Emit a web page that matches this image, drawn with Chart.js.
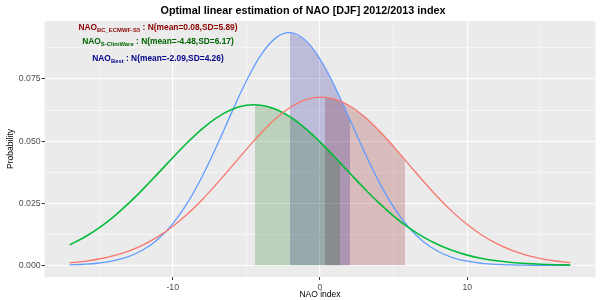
<!DOCTYPE html>
<html>
<head>
<meta charset="utf-8">
<script src="https://cdn.jsdelivr.net/npm/chart.js@4.4.0/dist/chart.umd.min.js"></script>
<style>
  body { margin: 0; background: #ffffff; }
  #wrap { width: 600px; height: 300px; }
</style>
</head>
<body>
<div id="wrap"><canvas id="chart"></canvas></div>
<script>
// NAO index values at which the densities were read
const xGrid = [-17, -16, -15, -14, -13, -12, -11, -10, -9, -8, -7, -6, -5, -4, -3, -2, -1,
               0, 1, 2, 3, 4, 5, 6, 7, 8, 9, 10, 11, 12, 13, 14, 15, 16, 17];

// NAO_BC_ECMWF-S5 (red)
const densEcmwf = [0.00101, 0.00163, 0.00256, 0.00389, 0.00575, 0.00827, 0.01155, 0.01566, 0.02064,
                   0.02643, 0.03289, 0.03976, 0.04669, 0.05328, 0.05908, 0.06364, 0.06660, 0.06772,
                   0.06691, 0.06423, 0.05990, 0.05428, 0.04778, 0.04087, 0.03397, 0.02743, 0.02152,
                   0.01640, 0.01214, 0.00874, 0.00611, 0.00415, 0.00274, 0.00176, 0.00109];

// NAO_S-ClimWare (green)
const densClimware = [0.00825, 0.01132, 0.01511, 0.01966, 0.02492, 0.03077, 0.03700, 0.04333, 0.04944,
                      0.05495, 0.05948, 0.06273, 0.06443, 0.06446, 0.06282, 0.05964, 0.05515, 0.04968,
                      0.04358, 0.03725, 0.03101, 0.02515, 0.01986, 0.01528, 0.01145, 0.00836, 0.00595,
                      0.00412, 0.00278, 0.00183, 0.00117, 0.00073, 0.00044, 0.00026, 0.00015];

// NAO_Best (blue)
const densBest = [0.00022, 0.00045, 0.00095, 0.00188, 0.00353, 0.00626, 0.01051, 0.01670, 0.02513,
                  0.03577, 0.04820, 0.06146, 0.07416, 0.08469, 0.09154, 0.09363, 0.09063, 0.08303,
                  0.07199, 0.05907, 0.04587, 0.03371, 0.02344, 0.01543, 0.00961, 0.00567, 0.00316,
                  0.00167, 0.00083, 0.00039, 0.00018, 0.00007, 0.00003, 0.00001, 0.00000];

// shaded areas, mean .. mean+SD
const shadeEcmwfX = [0.34, 1, 2, 3, 4, 5, 5.78];
const shadeEcmwfY = [0.06766, 0.06691, 0.06423, 0.05990, 0.05428, 0.04778, 0.04240];
const shadeClimwareX = [-4.42, -4, -3, -2, -1, 0, 1, 1.36];
const shadeClimwareY = [0.06466, 0.06446, 0.06282, 0.05964, 0.05515, 0.04968, 0.04358, 0.04131];
const shadeBestX = [-2.04, -1, 0, 1, 2, 2.04];
const shadeBestY = [0.09364, 0.09063, 0.08303, 0.07199, 0.05907, 0.05853];

// text in the top left corner
const labelNames = ['NAO', 'NAO', 'NAO'];
const labelSubs = ['BC_ECMWF-S5', 'S-ClimWare', 'Best'];
const labelMeans = ['0.08', '-4.48', '-2.09'];
const labelSds = ['5.89', '6.17', '4.26'];
const labelX = -11;
const labelY = [0.0958, 0.0901, 0.0834];
const labelColors = ['#8B0000', '#006400', '#00008B'];

const chartTitle = 'Optimal linear estimation of NAO [DJF] 2012/2013 index';

const FONT = '"Liberation Sans", Arial, Helvetica, sans-serif';
Chart.defaults.font.family = FONT;

function toPoints(xs, ys) {
    return xs.map((x, i) => ({ x: x, y: ys[i] }));
}

function isMultiple(v, step) {
    const r = v / step;
    return Math.abs(r - Math.round(r)) < 1e-6;
}

const panelBg = {
    id: 'panelBg',
    beforeDraw(chart) {
        const { ctx, chartArea: a } = chart;
        ctx.save();
        ctx.fillStyle = '#EBEBEB';
        ctx.fillRect(a.left, a.top, a.right - a.left, a.bottom - a.top);
        ctx.restore();
    }
};

// ggplot puts the title a bit right of the canvas centre
const plotTitle = {
    id: 'plotTitle',
    afterDraw(chart) {
        const ctx = chart.ctx;
        ctx.save();
        ctx.font = 'bold 10.8px ' + FONT;
        ctx.fillStyle = '#000000';
        ctx.textAlign = 'center';
        ctx.textBaseline = 'alphabetic';
        ctx.fillText(chartTitle, 303, 14);
        ctx.restore();
    }
};

const modelLabels = {
    id: 'modelLabels',
    afterDatasetsDraw(chart) {
        const { ctx, scales } = chart;
        const mainFont = 'bold 8.4px ' + FONT;
        const subFont = 'bold 5.9px ' + FONT;
        const cx = scales.x.getPixelForValue(labelX);
        ctx.save();
        ctx.textAlign = 'left';
        ctx.textBaseline = 'alphabetic';
        labelSubs.forEach((sub, i) => {
            const rest = ' : N(mean=' + labelMeans[i] + ',SD=' + labelSds[i] + ')';
            const y = scales.y.getPixelForValue(labelY[i]) + 3;
            ctx.font = mainFont;
            const w1 = ctx.measureText(labelNames[i]).width;
            const w3 = ctx.measureText(rest).width;
            ctx.font = subFont;
            const w2 = ctx.measureText(sub).width;
            let x = cx - (w1 + w2 + w3) / 2;
            ctx.fillStyle = labelColors[i];
            ctx.font = mainFont;
            ctx.fillText(labelNames[i], x, y);
            x += w1;
            ctx.font = subFont;
            ctx.fillText(sub, x, y + 2);
            x += w2;
            ctx.font = mainFont;
            ctx.fillText(rest, x, y);
        });
        ctx.restore();
    }
};

function curve(ys, color, width) {
    return {
        data: toPoints(xGrid, ys),
        borderColor: color,
        borderWidth: width,
        pointRadius: 0,
        tension: 0.4,
        fill: false,
        order: 1
    };
}

function shade(xs, ys, color) {
    return {
        data: toPoints(xs, ys),
        borderWidth: 0,
        borderColor: 'rgba(0,0,0,0)',
        backgroundColor: color,
        pointRadius: 0,
        tension: 0.4,
        fill: 'origin',
        order: 2
    };
}

const ctx = document.getElementById('chart').getContext('2d');
new Chart(ctx, {
    type: 'line',
    data: {
        datasets: [
            shade(shadeClimwareX, shadeClimwareY, 'rgba(0,100,0,0.2)'),
            shade(shadeBestX, shadeBestY, 'rgba(0,0,139,0.2)'),
            shade(shadeEcmwfX, shadeEcmwfY, 'rgba(139,0,0,0.2)'),
            curve(densEcmwf, '#F8766D', 1.3),
            curve(densClimware, '#00BA38', 1.6),
            curve(densBest, '#619CFF', 1.3)
        ]
    },
    options: {
        responsive: true,
        maintainAspectRatio: false,
        animation: false,
        layout: { padding: { left: 0, right: 4.6, top: 21, bottom: 0 } },
        plugins: {
            legend: { display: false },
            tooltip: { enabled: false },
            title: { display: false }
        },
        scales: {
            x: {
                type: 'linear',
                min: -18.7,
                max: 18.7,
                afterFit(scale) { scale.height = 23; },
                border: { display: false },
                grid: {
                    color: '#FFFFFF',
                    lineWidth: c => isMultiple(c.tick.value, 10) ? 1.1 : 0.5,
                    drawTicks: true,
                    tickLength: 3,
                    tickWidth: 1,
                    tickColor: c => isMultiple(c.tick.value, 10) ? '#333333' : 'rgba(0,0,0,0)'
                },
                ticks: {
                    stepSize: 5,
                    includeBounds: false,
                    autoSkip: false,
                    maxRotation: 0,
                    padding: 2,
                    color: '#4D4D4D',
                    font: { size: 8.7 },
                    callback: v => isMultiple(v, 10) ? String(v) : ''
                },
                title: {
                    display: true,
                    text: 'NAO index',
                    color: '#000000',
                    font: { size: 8.5 },
                    padding: { top: 0, bottom: 0 }
                }
            },
            y: {
                type: 'linear',
                min: -0.00468,
                max: 0.09833,
                afterFit(scale) { scale.width = 44.6; },
                border: { display: false },
                grid: {
                    color: '#FFFFFF',
                    lineWidth: c => isMultiple(c.tick.value, 0.025) ? 1.1 : 0.5,
                    drawTicks: true,
                    tickLength: 3,
                    tickWidth: 1,
                    tickColor: c => isMultiple(c.tick.value, 0.025) ? '#333333' : 'rgba(0,0,0,0)'
                },
                ticks: {
                    stepSize: 0.0125,
                    includeBounds: false,
                    autoSkip: false,
                    padding: 1,
                    color: '#4D4D4D',
                    font: { size: 8.7 },
                    callback: v => isMultiple(v, 0.025) ? v.toFixed(3) : ''
                },
                title: {
                    display: true,
                    text: 'Probability',
                    color: '#000000',
                    font: { size: 8.6 },
                    padding: { top: 5, bottom: 0 }
                }
            }
        }
    },
    plugins: [panelBg, plotTitle, modelLabels]
});
</script>
</body>
</html>
